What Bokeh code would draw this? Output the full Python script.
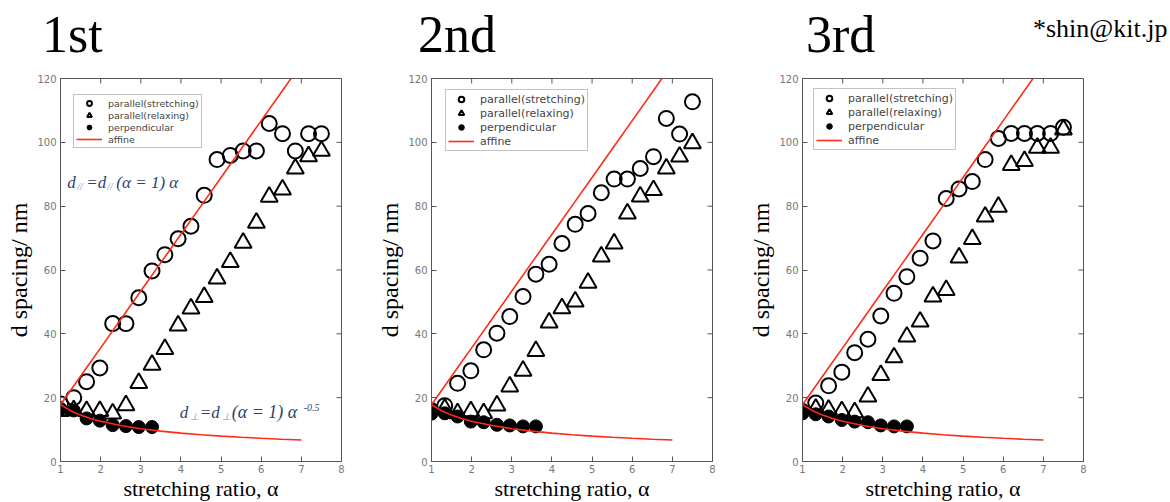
import math
from bokeh.plotting import figure
from bokeh.layouts import row
from bokeh.models import Label, Legend, LegendItem, Range1d, FixedTicker, Div
from bokeh.embed import file_html
from bokeh.resources import INLINE

# ---------------- data ----------------
alpha_all = [1.0, 1.33, 1.65, 1.98, 2.3, 2.63, 2.95, 3.28, 3.6, 3.93, 4.25,
             4.58, 4.9, 5.23, 5.55, 5.88, 6.2, 6.53, 6.85, 7.18, 7.5]
alpha_from2 = alpha_all[1:]

p1_str_y = [18, 20, 25, 29.3, 43.2, 43.2, 51.3, 59.7, 64.8, 69.8, 73.7,
            83.4, 94.6, 95.9, 97.3, 97.3, 105.9, 102.7, 97.3, 102.7, 102.7]
p1_rel_y = [15.8, 16, 15.8, 15.8, 15.0, 17.6, 24.6, 30.3, 35.2, 42.6, 47.9,
            51.5, 57.3, 62.5, 68.5, 74.8, 82.9, 85.2, 91.8, 95.6, 97.3]
p1_perp_x = [1.0, 1.33, 1.65, 1.98, 2.3, 2.63, 2.95, 3.28]
p1_perp_y = [16.5, 16, 13.5, 12.8, 11.4, 11.1, 10.8, 10.8]

p2_str_y = [17.5, 24.5, 28.4, 35.0, 40.2, 45.4, 51.7, 58.7, 61.8, 68.3,
            74.3, 77.7, 84.2, 88.5, 88.5, 91.8, 95.5, 107.5, 102.6, 112.7]
p2_rel_y = [16.5, 15.1, 15.7, 15.1, 17.5, 23.5, 28.4, 34.6, 43.5, 48.0,
            50.1, 56.0, 64.2, 68.3, 77.7, 83.0, 85.0, 91.8, 95.5, 99.7]
p2_perp_x = [1.0, 1.0, 1.33, 1.65, 1.98, 2.3, 2.63, 2.95, 3.28, 3.6]
p2_perp_y = [16.5, 15.0, 15.1, 14.1, 12.5, 12.3, 11.5, 11.3, 11.0, 11.0]

p3_str_y = [18.3, 23.7, 28.0, 34.1, 38.3, 45.6, 52.7, 57.9, 63.7, 69.1,
            82.4, 85.4, 87.7, 94.6, 101.2, 102.8, 102.8, 102.8, 102.8, 104.7]
p3_rel_y = [16.5, 16.2, 15.7, 15.4, 20.3, 27.1, 32.6, 39.1, 43.8, 51.7,
            53.7, 63.9, 69.7, 76.7, 79.8, 92.9, 94.1, 98.3, 98.3, 104.0]
p3_perp_x = [1.0, 1.0, 1.33, 1.65, 1.98, 2.3, 2.63, 2.95, 3.28, 3.6]
p3_perp_y = [16.2, 15.1, 14.8, 14.1, 13.0, 12.5, 12.3, 11.3, 11.0, 11.0]

# affine model from the chart's own formulas: d = d(a=1) a  and  d = d(a=1) a^-0.5
d0 = 17.8
affine_alpha = [1.0, 1.25, 1.5, 1.75, 2.0, 2.5, 3.0, 3.5, 4.0, 4.5, 5.0, 5.5, 6.0, 6.5, 7.0]

panel_titles = ["1st", "2nd", "3rd"]
legend_labels = ["parallel(stretching)", "parallel(relaxing)", "perpendicular", "affine"]
x_ticks = [1, 2, 3, 4, 5, 6, 7, 8]
y_ticks = [0, 20, 40, 60, 80, 100, 120]
author_note = "*shin@kit.jp"

SERIF = "Liberation Serif"
SANS = "DejaVu Sans"
RED = "#ff2a1a"
NAVY = "#2e3f6e"
LIGHTBLUE = "#6f8fc8"
FRAME = "#555555"


def make_panel(left, right,
               str_x, str_y, rel_x, rel_y, perp_x, perp_y,
               legend_loc, legend_font, legend_row, legend_pad):
    p = figure(frame_width=281, frame_height=383, output_backend="svg",
               toolbar_location=None,
               x_range=Range1d(x_ticks[0], x_ticks[-1]),
               y_range=Range1d(y_ticks[0], y_ticks[-1]),
               min_border_left=left, min_border_right=right,
               min_border_top=78, min_border_bottom=41)
    p.outline_line_color = FRAME
    p.outline_line_width = 1
    p.xgrid.visible = False
    p.ygrid.visible = False
    p.background_fill_color = "white"
    p.border_fill_color = "white"

    for ax in (p.xaxis[0], p.yaxis[0]):
        ax.major_tick_in = 5
        ax.major_tick_out = 0
        ax.minor_tick_line_color = None
        ax.axis_line_color = FRAME
        ax.major_tick_line_color = FRAME
        ax.major_label_text_font = SANS
        ax.major_label_text_font_size = "10px"
        ax.major_label_text_color = "#777777"
        ax.axis_label_text_font = SERIF
        ax.axis_label_text_font_style = "normal"
        ax.axis_label_text_color = "black"
    p.xaxis[0].ticker = FixedTicker(ticks=x_ticks)
    p.yaxis[0].ticker = FixedTicker(ticks=y_ticks)
    p.xaxis[0].axis_label = "stretching ratio, α"
    p.xaxis[0].axis_label_text_font_size = "22px"
    p.xaxis[0].axis_label_standoff = 0
    p.xaxis[0].major_label_standoff = 3
    p.yaxis[0].axis_label = "d spacing/ nm"
    p.yaxis[0].axis_label_text_font_size = "24px"
    p.yaxis[0].axis_label_standoff = 2
    p.yaxis[0].major_label_standoff = 4

    # mirrored inward ticks on the top and right edges of the frame
    p.scatter(x_ticks[1:-1], [y_ticks[-1]] * (len(x_ticks) - 2), marker="dash",
              angle=math.pi / 2, size=10, line_color=FRAME, line_width=1)
    p.scatter([x_ticks[-1]] * (len(y_ticks) - 2), y_ticks[1:-1], marker="dash",
              size=10, line_color=FRAME, line_width=1)

    r_str = p.scatter(str_x, str_y, marker="circle", size=15, fill_color=None,
                      line_color="black", line_width=2)
    r_rel = p.scatter(rel_x, rel_y, marker="triangle", size=17, fill_color=None,
                      line_color="black", line_width=2)
    r_perp = p.scatter(perp_x, perp_y, marker="circle", size=13, fill_color="black",
                       line_color="black", line_width=1)
    par_y = [d0 * a for a in affine_alpha]
    perp_line_y = [d0 * a ** -0.5 for a in affine_alpha]
    r_aff = p.line(affine_alpha, par_y, line_color=RED, line_width=1.6)
    p.line(affine_alpha, perp_line_y, line_color=RED, line_width=1.6)

    legend = Legend(items=[LegendItem(label=legend_labels[0], renderers=[r_str]),
                           LegendItem(label=legend_labels[1], renderers=[r_rel]),
                           LegendItem(label=legend_labels[2], renderers=[r_perp]),
                           LegendItem(label=legend_labels[3], renderers=[r_aff])],
                    location=legend_loc)
    legend.label_text_font = SANS
    legend.label_text_font_size = legend_font
    legend.label_text_color = "#444444"
    legend.label_height = legend_row
    legend.glyph_height = legend_row
    legend.glyph_width = 26
    legend.label_standoff = 6
    legend.spacing = 0
    legend.padding = legend_pad
    legend.margin = 0
    legend.border_line_color = "#888888"
    legend.border_line_width = 1
    legend.background_fill_color = "white"
    legend.background_fill_alpha = 1
    p.add_layout(legend)
    return p


# figure widths: 60 + 281 + right border
f1 = make_panel(60, 30,
                alpha_all, p1_str_y, alpha_all, p1_rel_y, p1_perp_x, p1_perp_y,
                (13, 313), "9.5px", 12, 2)
f2 = make_panel(60, 30,
                alpha_from2, p2_str_y, alpha_from2, p2_rel_y, p2_perp_x, p2_perp_y,
                (14, 310), "11px", 14, 2)
f3 = make_panel(60, 10,
                alpha_from2, p3_str_y, alpha_from2, p3_rel_y, p3_perp_x, p3_perp_y,
                (11, 311), "11px", 14, 2)

# formula annotations on the first panel
def piece(p, x, y, txt, dx, dy, size, color, style="italic"):
    p.add_layout(Label(x=x, y=y, x_offset=dx, y_offset=dy, text=txt, text_font=SERIF,
                       text_font_style=style, text_font_size=size, text_color=color,
                       text_baseline="alphabetic"))

fx, fy = 1.17, 87.5
piece(f1, fx, fy, "d", 0, 0, "17px", NAVY)
piece(f1, fx, fy, "//", 10, -4, "10px", LIGHTBLUE)
piece(f1, fx, fy, "=d", 19, 0, "17px", NAVY)
piece(f1, fx, fy, "//", 40, -4, "10px", LIGHTBLUE)
piece(f1, fx, fy, "(α = 1) α", 49, 0, "17px", NAVY)

gx, gy = 3.97, 15.4
piece(f1, gx, gy, "d", 0, 0, "17px", NAVY)
piece(f1, gx, gy, "⊥", 10, -4, "10px", LIGHTBLUE)
piece(f1, gx, gy, "=d", 20, 0, "17px", NAVY)
piece(f1, gx, gy, "⊥", 42, -4, "10px", LIGHTBLUE)
piece(f1, gx, gy, "(α = 1) α", 52, 0, "18px", NAVY)
piece(f1, gx, gy, "-0.5", 124, 5, "10px", NAVY)


# panel titles and author note: text blocks laid over each figure's top margin
def overlay(text, size, line_h, width, back, top):
    html = ('<div style="font-family:\'Liberation Serif\';font-size:%dpx;'
            'line-height:%dpx;color:black;white-space:nowrap">%s</div>'
            % (size, line_h, text))
    # back = distance from the end of the preceding figure back to the text's left edge
    return Div(text=html, width=width, height=line_h,
               margin=(top, back - width, 0, -back))

t1 = overlay(panel_titles[0], 52, 58, 90, 371 - 42, 6)
t2 = overlay(panel_titles[1], 52, 58, 90, 742 - 418, 6)
t3 = overlay(panel_titles[2], 52, 58, 90, 1093 - 806, 6)
note = Div(text='<div style="font-family:\'Liberation Serif\';font-size:26px;'
                'color:black;white-space:nowrap;line-height:30px">' + author_note + '</div>',
           width=135, height=32, margin=(14, 0, 0, -60))

layout = row(f1, t1, f2, t2, f3, t3, note, spacing=0)
open("out.html", "w").write(file_html(layout, INLINE))
